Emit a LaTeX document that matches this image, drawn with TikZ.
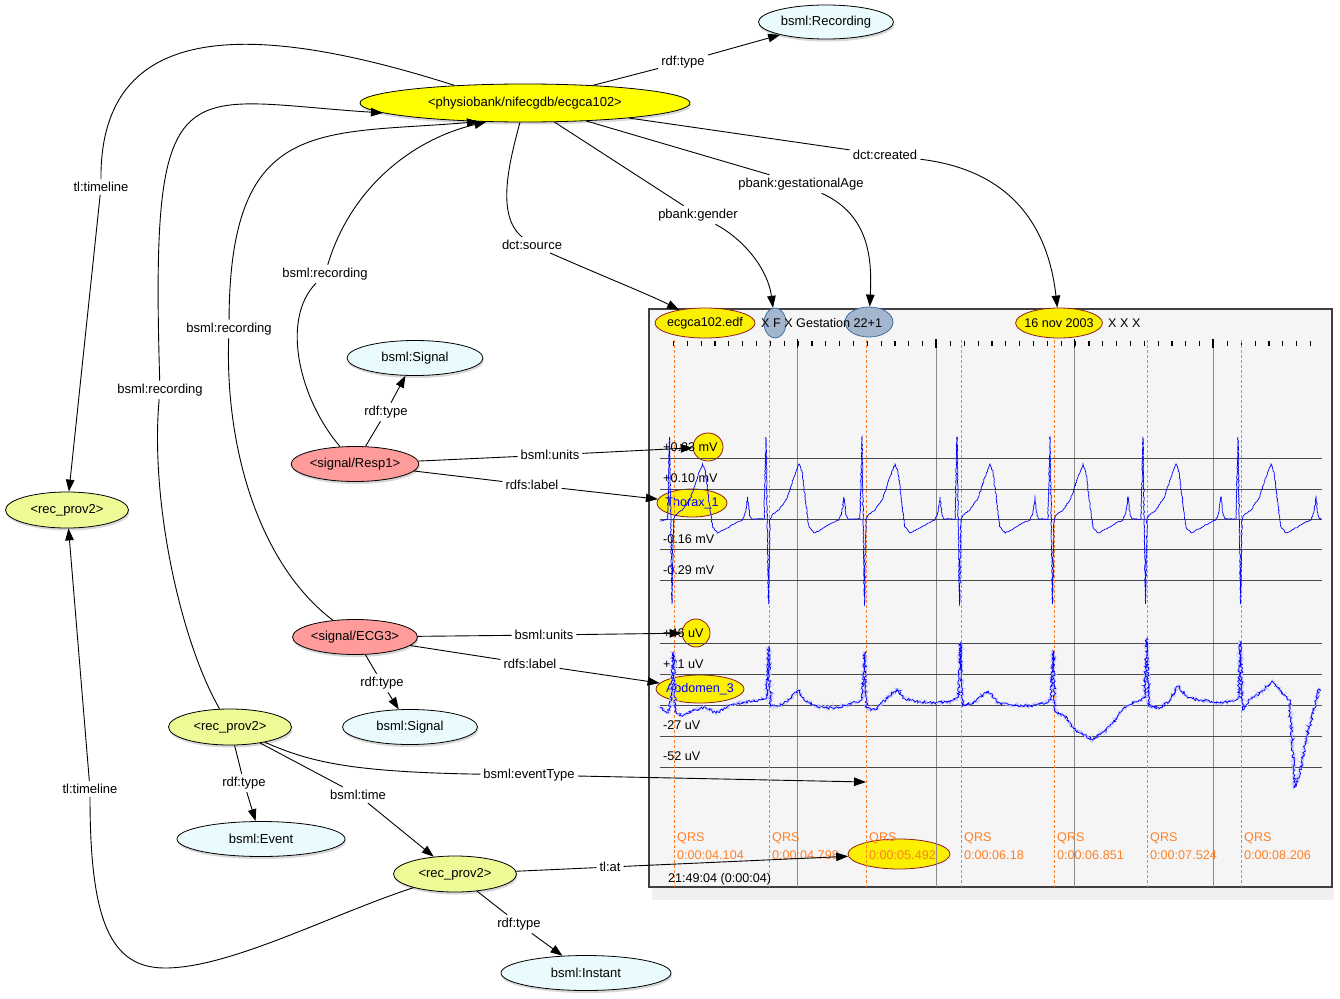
\documentclass[tikz,border=0pt]{standalone}
\usepackage{fontspec}
\setmainfont{Liberation Sans}
\usepackage{xcolor}
\usepackage{tikz}
\usetikzlibrary{arrows.meta, shapes.geometric, shadows, decorations.pathmorphing}
\definecolor{ClassCyan}{HTML}{E9FBFD}
\definecolor{RecYellow}{HTML}{FFFF00}
\definecolor{SigSalmon}{HTML}{FF9B9B}
\definecolor{ProvLime}{HTML}{EEFA96}
\definecolor{PanelGray}{HTML}{F5F5F5}
\definecolor{MarkYellow}{HTML}{FAF000}
\definecolor{MarkRed}{HTML}{8E1F1F}
\definecolor{MarkBlue}{HTML}{A3B6CE}
\definecolor{MarkEdge}{HTML}{3F6FA3}
\definecolor{QrsOrange}{HTML}{FF8026}
\definecolor{GridGray}{HTML}{4A4A4A}

% abdomen channel, raw points
\newcommand\abdpath{(660,708) -- (668,713) -- (671.5,700) -- (673.5,652) -- (675.5,712) -- (682,716)
  -- (692,711) -- (705,707) -- (716,713) -- (730,705) -- (745,702) -- (760,700) -- (766.5,698)
  -- (768.6,647) -- (770.5,706) -- (780,706) -- (790,699) -- (798,690) -- (805,701) -- (820,707)
  -- (835,708) -- (850,704) -- (862,700) -- (864.6,652) -- (866.5,708) -- (875,710) -- (886,699)
  -- (897,689) -- (905,699) -- (920,702) -- (935,703) -- (950,702) -- (958.5,697) -- (960.5,643)
  -- (962.5,706) -- (975,702) -- (988,691) -- (998,703) -- (1010,705) -- (1030,706) -- (1049,702)
  -- (1051,697) -- (1053,651) -- (1055,711) -- (1065,716) -- (1075,730) -- (1093,740) -- (1110,726)
  -- (1126,706) -- (1140,700) -- (1144.7,697) -- (1146.7,638) -- (1148.7,706) -- (1160,708)
  -- (1170,700) -- (1178,686) -- (1188,698) -- (1200,700) -- (1220,703) -- (1236,700) -- (1238.4,697)
  -- (1240.4,642) -- (1242.5,710) -- (1250,699) -- (1262,692) -- (1272,681) -- (1280,690)
  -- (1287,697) -- (1289.5,700) -- (1295,787) -- (1300,772) -- (1307,735) -- (1314,710)
  -- (1318.5,689) -- (1321,690)}

\begin{document}
\begin{tikzpicture}[x=1pt, y=-1pt, >={Triangle[length=12pt, width=8.5pt]},
    gnode/.style={ellipse, draw=black, line width=0.8pt, inner sep=0pt, minimum height=35pt,
                  font=\fontsize{13}{15}\selectfont,
                  drop shadow={shadow xshift=1pt, shadow yshift=-2.5pt, opacity=0.3}},
    cls/.style={gnode, fill=ClassCyan},
    res/.style={gnode, fill=RecYellow},
    sig/.style={gnode, fill=SigSalmon, minimum width=125pt},
    prov/.style={gnode, fill=ProvLime, minimum width=123pt, minimum height=36pt},
    lbl/.style={inner sep=3pt, font=\fontsize{13}{15}\selectfont},
    link/.style={line width=0.9pt},
    arr/.style={link, ->},
    hilite/.style={ellipse, draw=MarkRed, line width=0.8pt, fill=MarkYellow, inner sep=0pt,
                   minimum height=30pt, font=\fontsize{12.6}{14}\selectfont},
    bhilite/.style={hilite, draw=MarkEdge, fill=MarkBlue},
    ptext/.style={inner sep=0pt, anchor=west, font=\fontsize{12.6}{14}\selectfont},
    qtext/.style={ptext, text=QrsOrange},
    hline/.style={draw=GridGray, line width=1pt},
    vgrid/.style={draw=black!45, line width=0.9pt},
    qline/.style={draw=QrsOrange, line width=0.8pt, dash pattern=on 3pt off 2pt},
    tickmark/.style={draw=black, line width=1.2pt},
    ecgtrace/.style={draw=blue, line width=0.7pt, decorate,
                     decoration={random steps, segment length=1.5pt, amplitude=0.5pt}}]
  \pgfmathsetseed{17}
  \fill[white] (0,0) rectangle (1340,998);
  \useasboundingbox (0,0) rectangle (1340,998);

  % Signal panel
  \fill[gray!12] (652,887) rectangle (1334,900);
  \draw[black!75, line width=1.8pt, fill=PanelGray] (649,309) rectangle (1332,887);

  % Highlighted values in the panel
  \node[hilite, minimum width=100pt, inner xsep=-3pt] (edf) at (705,323) {ecgca102.edf};
  \node[bhilite, minimum width=22pt] (gender) at (775,323) {};
  \node[bhilite, minimum width=48pt] (gest) at (869,322) {};
  \node[hilite, minimum width=86pt, inner xsep=-4pt] (created) at (1059,323) {16 nov 2003};
  \node[hilite, minimum width=30pt, minimum height=28pt] (mV) at (708,447) {};
  \node[hilite, minimum width=70pt, minimum height=28pt, inner xsep=-2pt, text=blue] (thorax) at (692,503) {Thorax\_1};
  \node[hilite, minimum width=28pt, minimum height=28pt] (uV) at (696,633) {};
  \node[hilite, minimum width=88pt, minimum height=28pt, inner xsep=-4pt, text=blue] (abdomen) at (700,689) {Abdomen\_3};
  \node[hilite, minimum width=102pt] (qrsmark) at (899,854) {};

  % Time axis, grid and QRS marks
  \foreach \i in {0,...,46}
    \draw[tickmark] ({673.4+13.85*\i},341) -- ++(0,5);
  \foreach \gx in {797.6,936,1074.5,1213}{
    \draw[vgrid] (\gx,339) -- (\gx,887);
    \draw[tickmark] (\gx,339) -- (\gx,348);
  }
  \foreach \hy in {458,489,519,549,580,643,674,705,736,767}
    \draw[hline] (660,\hy) -- (1322,\hy);
  \foreach \qx/\qt [count=\k] in {674/0:00:04.104, 769/0:00:04.798, 866/0:00:05.492,
      961/0:00:06.18, 1054/0:00:06.851, 1147/0:00:07.524, 1241/0:00:08.206}{
    \draw[qline] (\qx,340) -- (\qx,887);
    \node[qtext] (qrs\k) at (\qx+3,838) {QRS};
    \node[qtext] (qtime\k) at (\qx+3,855) {\qt};
  }

  % Panel texts
  \node[ptext] (gtext) at (761,323) {X F X Gestation 22+1};
  \node[ptext] (xxx) at (1108,323) {X X X};
  \foreach \hy/\sctext [count=\k] in {447/+0.23 mV, 478/+0.10 mV, 539/-0.16 mV, 570/-0.29 mV,
      633/+46 uV, 664/+21 uV, 725/-27 uV, 756/-52 uV}
    \node[ptext] (sc\k) at (663,\hy) {\sctext};
  \node[ptext] (stamp) at (668,879) {21:49:04 (0:00:04)};

  % Traces
  \draw[ecgtrace] (660,521) \foreach \s in {670.5,767,863,958,1051,1144,1239}{
      -- ({\s-3},519) -- ({\s-1},437) -- ({\s+1.5},604) -- ({\s+3},519) -- ({\s+5},515)
      -- ({\s+12},510) -- ({\s+20},498) -- ({\s+27},477) -- ({\s+32},464) -- ({\s+35},472)
      -- ({\s+39},505) -- ({\s+42},527) -- ({\s+47},533) -- ({\s+55},529) -- ({\s+65},523)
      -- ({\s+72},520) -- ({\s+75},512) -- ({\s+77},497) -- ({\s+79},515) -- ({\s+81},519)}
    -- (1321,518);
  \draw[ecgtrace, draw=blue!22, line width=1pt,
        decoration={random steps, segment length=1pt, amplitude=2.2pt}] \abdpath;
  \draw[ecgtrace, decoration={random steps, segment length=1.2pt, amplitude=1.4pt}] \abdpath;

  % Graph nodes
  \node[cls, minimum width=135pt, minimum height=34pt] (recording) at (826,22) {bsml:Recording};
  \node[res, minimum width=330pt, minimum height=38pt] (ecgca) at (525,103) {<physiobank/nifecgdb/ecgca102>};
  \node[cls, minimum width=136pt] (sigA) at (415,358) {bsml:Signal};
  \node[sig] (resp) at (355,464) {<signal/Resp1>};
  \node[sig] (ecg) at (355,637) {<signal/ECG3>};
  \node[cls, minimum width=135pt] (sigB) at (410,727) {bsml:Signal};
  \node[prov] (provL) at (67,510) {<rec\_prov2>};
  \node[prov] (provM) at (230,727) {<rec\_prov2>};
  \node[cls, minimum width=168pt] (event) at (261,839) {bsml:Event};
  \node[prov] (provB) at (455,874) {<rec\_prov2>};
  \node[cls, minimum width=170pt] (instant) at (586,973) {bsml:Instant};
  \coordinate (evt) at (866,782);

  % Edge labels
  \node[lbl] (l1) at (683,62) {rdf:type};
  \node[lbl] (l2) at (101,187) {tl:timeline};
  \node[lbl] (l3) at (160,390) {bsml:recording};
  \node[lbl] (l4) at (229,329) {bsml:recording};
  \node[lbl] (l5) at (325,274) {bsml:recording};
  \node[lbl] (l6) at (386,412) {rdf:type};
  \node[lbl] (l7) at (532,245) {dct:source};
  \node[lbl] (l8) at (698,215) {pbank:gender};
  \node[lbl] (l9) at (801,184) {pbank:gestationalAge};
  \node[lbl] (l10) at (885,155) {dct:created};
  \node[lbl] (l11) at (550,455) {bsml:units};
  \node[lbl] (l12) at (532,485) {rdfs:label};
  \node[lbl] (l13) at (544,635) {bsml:units};
  \node[lbl] (l14) at (530,664) {rdfs:label};
  \node[lbl] (l15) at (382,683) {rdf:type};
  \node[lbl] (l16) at (244,783) {rdf:type};
  \node[lbl] (l17) at (358,795) {bsml:time};
  \node[lbl] (l18) at (529,775) {bsml:eventType};
  \node[lbl] (l19) at (610,867) {tl:at};
  \node[lbl] (l20) at (519,924) {rdf:type};
  \node[lbl] (l21) at (90,789) {tl:timeline};

  % Edges of the recording
  \draw[link] (ecgca) -- (l1);
  \draw[arr] (l1) -- (recording);
  \draw[link] (ecgca.166) .. controls (250,20) and (100,20) .. (l2);
  \draw[arr] (l2) -- (provL);
  \draw[link] (ecgca) .. controls (510,160) and (495,215) .. (l7);
  \draw[arr] (l7) .. controls (600,275) and (650,295) .. (edf);
  \draw[link] (ecgca) -- (l8);
  \draw[arr] (l8) .. controls (745,240) and (768,270) .. (gender);
  \draw[link] (ecgca) -- (l9);
  \draw[arr] (l9) .. controls (870,215) and (872,260) .. (gest);
  \draw[link] (ecgca) -- (l10);
  \draw[arr] (l10) .. controls (1010,170) and (1048,225) .. (created);

  % Edges of the signals
  \draw[link] (resp) .. controls (300,400) and (280,320) .. (l5);
  \draw[arr] (l5) .. controls (350,190) and (410,140) .. (ecgca.206);
  \draw[link] (resp) -- (l6);
  \draw[arr] (l6) -- (sigA);
  \draw[link] (resp) -- (l11);
  \draw[arr] (l11) -- (mV);
  \draw[link] (resp) -- (l12);
  \draw[arr] (l12) -- (thorax);
  \draw[link] (ecg) .. controls (260,565) and (225,450) .. (l4);
  \draw[arr] (l4) .. controls (230,115) and (320,135) .. (ecgca.202);
  \draw[link] (ecg) -- (l13);
  \draw[arr] (l13) -- (uV);
  \draw[link] (ecg) -- (l14);
  \draw[arr] (l14) -- (abdomen);
  \draw[link] (ecg) -- (l15);
  \draw[arr] (l15) -- (sigB);

  % Edges of the events
  \draw[link] (provM) .. controls (180,640) and (150,500) .. (l3);
  \draw[arr] (l3) .. controls (150,60) and (180,100) .. (ecgca.184);
  \draw[link] (provM) -- (l16);
  \draw[arr] (l16) -- (event);
  \draw[link] (provM) -- (l17);
  \draw[arr] (l17) -- (provB);
  \draw[link] (provM) .. controls (310,762) and (350,772) .. (l18);
  \draw[arr] (l18) -- (evt);
  \draw[link] (provB) -- (l19);
  \draw[arr] (l19) -- (qrsmark);
  \draw[link] (provB) -- (l20);
  \draw[arr] (l20) -- (instant);
  \draw[link] (provB) .. controls (330,915) and (230,968) .. (165,968)
                      .. controls (110,968) and (90,920) .. (l21);
  \draw[arr] (l21) -- (provL);
\end{tikzpicture}
\end{document}
